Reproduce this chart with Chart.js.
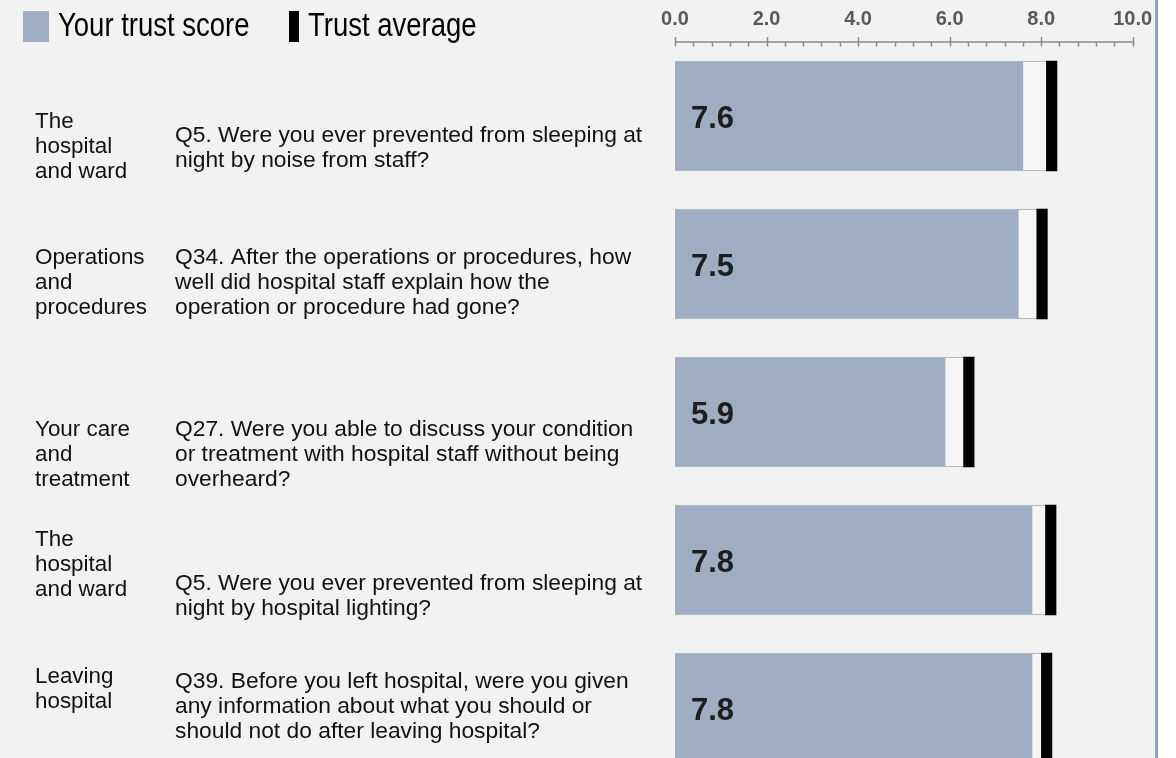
<!DOCTYPE html>
<html><head><meta charset="utf-8">
<script src="https://cdn.jsdelivr.net/npm/chart.js@4.4.0/dist/chart.umd.min.js"></script>
<style>
html,body{margin:0;padding:0;background:#fff;overflow:hidden;width:1176px;height:758px;}
#bg{position:absolute;left:0;top:0;width:1155px;height:758px;background:#f2f2f2;border-right:3px solid #8fa2c0;}
#c{position:absolute;left:0;top:0;}
</style></head><body>
<div id="bg"></div>
<canvas id="c" width="1176" height="800"></canvas>
<script>
// ---- data ----
const categories = [
  ["The","hospital","and ward"],
  ["Operations","and","procedures"],
  ["Your care","and","treatment"],
  ["The","hospital","and ward"],
  ["Leaving","hospital"]
];
const questions = [
  ["Q5. Were you ever prevented from sleeping at","night by noise from staff?"],
  ["Q34. After the operations or procedures, how","well did hospital staff explain how the","operation or procedure had gone?"],
  ["Q27. Were you able to discuss your condition","or treatment with hospital staff without being","overheard?"],
  ["Q5. Were you ever prevented from sleeping at","night by hospital lighting?"],
  ["Q39. Before you left hospital, were you given","any information about what you should or","should not do after leaving hospital?"]
];
const scores = [7.6, 7.5, 5.9, 7.8, 7.8];
const trustAverages = [8.23, 8.02, 6.42, 8.21, 8.12];
const tickValues = [0, 2, 4, 6, 8, 10];
const seriesLabels = ["Your trust score", "Trust average"];

// ---- layout / style ----
const markerHalf = 0.115;
const catFirstLineOffset = [6, -6, 18, -20, -31];
const qFirstLineOffset = [20, -6, 18, 24, -26];
const lineGap = 25;
const SCORE_COLOR = '#9eadc2';

const rowKeys = categories.map((c, i) => 'r' + i);

const textPlugin = {
  id: 'textPlugin',
  afterDraw(chart) {
    const ctx = chart.ctx;
    const x = chart.scales.x, y = chart.scales.y;
    ctx.save();
    // axis
    const ay = 42;
    ctx.strokeStyle = '#8a8a8a';
    ctx.lineWidth = 1.5;
    ctx.beginPath();
    ctx.moveTo(x.getPixelForValue(0), ay);
    ctx.lineTo(x.getPixelForValue(10), ay);
    ctx.stroke();
    for (let k = 0; k <= 25; k++) {
      const v = k * 0.4;
      const px = Math.round(x.getPixelForValue(v)) + 0.5;
      const major = k % 5 === 0;
      ctx.beginPath();
      ctx.moveTo(px, major ? 37 : 42);
      ctx.lineTo(px, 46.5);
      ctx.stroke();
    }
    ctx.fillStyle = '#595959';
    ctx.font = 'bold 20px "Liberation Sans", Arial, sans-serif';
    ctx.textAlign = 'center';
    ctx.textBaseline = 'alphabetic';
    tickValues.forEach(v => ctx.fillText(v.toFixed(1), x.getPixelForValue(v), 25));

    // legend
    ctx.textAlign = 'left';
    ctx.fillStyle = SCORE_COLOR;
    ctx.fillRect(23, 11, 26, 31);
    ctx.fillStyle = '#000';
    ctx.fillRect(289, 11, 10, 31);
    ctx.font = '27.5px "Liberation Sans", Arial, sans-serif';
    [[seriesLabels[0], 58], [seriesLabels[1], 308]].forEach(([t, lx]) => {
      ctx.save();
      ctx.translate(lx, 36);
      ctx.scale(1, 1.18);
      ctx.fillText(t, 0, 0);
      ctx.restore();
    });

    // row texts
    ctx.textBaseline = 'middle';
    ctx.fillStyle = '#111';
    categories.forEach((lines, i) => {
      const cy = y.getPixelForValue(i);
      ctx.font = '22.4px "Liberation Sans", Arial, sans-serif';
      lines.forEach((t, j) => ctx.fillText(t, 35, cy + catFirstLineOffset[i] + j * lineGap));
      ctx.font = '22.8px "Liberation Sans", Arial, sans-serif';
      questions[i].forEach((t, j) => ctx.fillText(t, 175, cy + qFirstLineOffset[i] + j * lineGap));
      // value label
      ctx.save();
      ctx.font = 'bold 31px "Liberation Sans", Arial, sans-serif';
      ctx.textBaseline = 'alphabetic';
      ctx.fillStyle = '#1e1e1e';
      ctx.fillText(scores[i].toFixed(1), 691, cy + 12);
      ctx.restore();
    });
    ctx.restore();
  }
};

new Chart(document.getElementById('c'), {
  type: 'bar',
  data: {
    labels: rowKeys,
    datasets: [
      {
        label: 'box',
        data: trustAverages.map(a => [0, a + markerHalf]),
        backgroundColor: '#f5f5f5',
        borderColor: '#a8a8a8',
        borderWidth: {top: 1, bottom: 1, left: 0, right: 0},
        borderSkipped: false,
        barThickness: 110,
        order: 3
      },
      {
        label: seriesLabels[0],
        data: scores.map(s => [0, s]),
        backgroundColor: SCORE_COLOR,
        borderWidth: 0,
        barThickness: 108,
        order: 2
      },
      {
        label: seriesLabels[1],
        data: trustAverages.map(a => [a - markerHalf, a + markerHalf]),
        backgroundColor: '#000',
        borderWidth: 0,
        barThickness: 110,
        order: 1
      }
    ]
  },
  options: {
    indexAxis: 'y',
    responsive: false,
    animation: false,
    grouped: false,
    layout: { padding: { left: 675, right: 43.3, top: 42, bottom: 18 } },
    scales: {
      x: { type: 'linear', min: 0, max: 10, display: false },
      y: { type: 'category', display: false, offset: true }
    },
    plugins: { legend: { display: false }, tooltip: { enabled: false } }
  },
  plugins: [textPlugin]
});
</script>
</body></html>
